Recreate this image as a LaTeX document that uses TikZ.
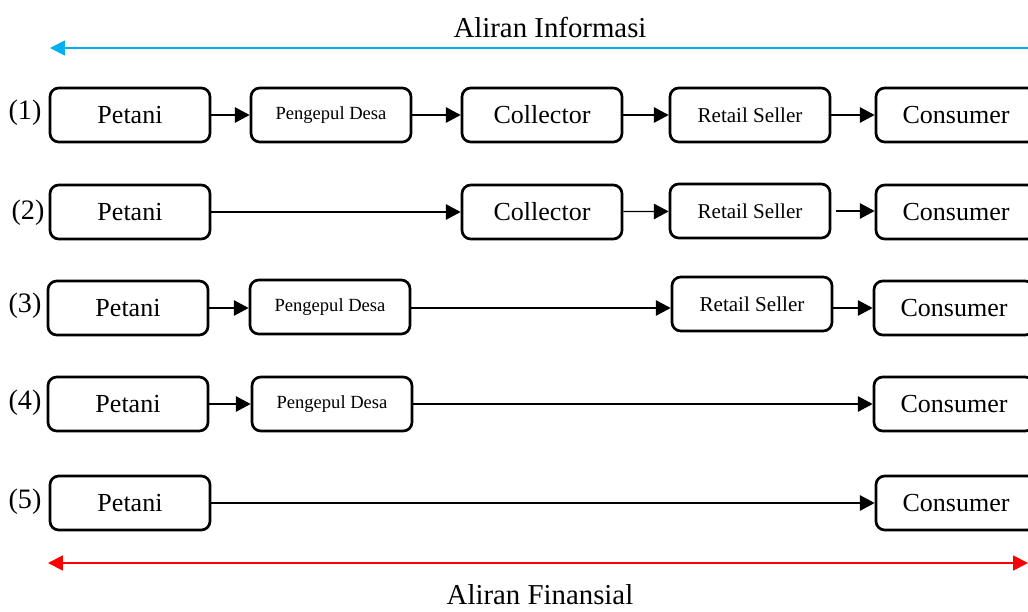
\documentclass[tikz,border=0pt]{standalone}
\usepackage{fontspec}
\setmainfont{Liberation Serif}
\usepackage{tikz}
\usetikzlibrary{arrows.meta, positioning, calc}
\definecolor{InfoBlue}{HTML}{00B0F0}
\definecolor{FinRed}{HTML}{FF0000}
\tikzset{
    % Box styles with rounded corners
    actor/.style={
        rectangle,
        rounded corners=0.22cm,
        draw=black,
        fill=white,
        line width=1.9pt,
        minimum width=4.0cm,
        minimum height=1.35cm,
        align=center,
        font=\fontsize{18.5}{20}\selectfont
    },
    actor retail/.style={
        actor,
        font=\fontsize{15}{17}\selectfont
    },
    actor pengepul/.style={
        actor,
        font=\fontsize{13.2}{15}\selectfont
    },
    row label/.style={
        font=\fontsize{20}{22}\selectfont
    },
    flow label/.style={
        font=\fontsize{20.5}{22}\selectfont
    },
    arrow style/.style={
        -{Triangle[length=10.5pt, width=11pt]},
        line width=0.9pt,
        black
    },
    info arrow/.style={
        -{Triangle[length=10.5pt, width=10.5pt]},
        line width=1.3pt,
        InfoBlue
    },
    fin arrow/.style={
        {Triangle[length=10.5pt, width=10.5pt]}-{Triangle[length=10.5pt, width=10.5pt]},
        line width=1.3pt,
        FinRed
    }
}
\begin{document}
\begin{tikzpicture}[x=0.025cm, y=-0.025cm]
        \useasboundingbox (0,0) rectangle (1028,612);

        % Aliran Informasi
        \node[flow label] (info) at (550, 27) {Aliran Informasi};
        \coordinate (info r) at (1045, 48);
        \coordinate (info l) at (50, 48);
        \draw[info arrow] (info r) -- (info l);

        % Row 1
        \node[row label] (n1) at (25, 113) {(1)};
        \node[actor] (petani1) at (130, 115) {Petani};
        \node[actor pengepul] (pengepul1) at (331, 115) {Pengepul Desa};
        \node[actor] (collector1) at (542, 115) {Collector};
        \node[actor retail] (retail1) at (750, 115) {Retail Seller};
        \node[actor] (consumer1) at (956, 115) {Consumer};
        \draw[arrow style] (petani1) -- (pengepul1);
        \draw[arrow style] (pengepul1) -- (collector1);
        \draw[arrow style] (collector1) -- (retail1);
        \draw[arrow style] (retail1) -- (consumer1);

        % Row 2
        \node[row label] (n2) at (28, 213) {(2)};
        \node[actor] (petani2) at (130, 212) {Petani};
        \node[actor] (collector2) at (542, 212) {Collector};
        \node[actor retail] (retail2) at (750, 211) {Retail Seller};
        \node[actor] (consumer2) at (956, 212) {Consumer};
        \draw[arrow style] (petani2.east) -- (petani2.east -| collector2.west);
        \draw[arrow style] (collector2) -- (retail2);
        \draw[arrow style] ([xshift=3]retail2.east) -- (retail2.east -| consumer2.west);

        % Row 3
        \node[row label] (n3) at (25, 306) {(3)};
        \node[actor] (petani3) at (128, 308) {Petani};
        \node[actor pengepul] (pengepul3) at (330, 307) {Pengepul Desa};
        \node[actor retail] (retail3) at (752, 304) {Retail Seller};
        \node[actor] (consumer3) at (954, 308) {Consumer};
        \draw[arrow style] (petani3.east) -- (petani3.east -| pengepul3.west);
        \draw[arrow style] (pengepul3.east |- petani3.east) -- (retail3.west |- petani3.east);
        \draw[arrow style] (retail3.east |- petani3.east) -- (consumer3.west |- petani3.east);

        % Row 4
        \node[row label] (n4) at (25, 403) {(4)};
        \node[actor] (petani4) at (128, 404) {Petani};
        \node[actor pengepul] (pengepul4) at (332, 404) {Pengepul Desa};
        \node[actor] (consumer4) at (954, 404) {Consumer};
        \draw[arrow style] (petani4) -- (pengepul4);
        \draw[arrow style] (pengepul4) -- (consumer4);

        % Row 5
        \node[row label] (n5) at (25, 502) {(5)};
        \node[actor] (petani5) at (130, 503) {Petani};
        \node[actor] (consumer5) at (956, 503) {Consumer};
        \draw[arrow style] (petani5) -- (consumer5);

        % Aliran Finansial
        \coordinate (fin l) at (48, 563);
        \coordinate (fin r) at (1028, 563);
        \draw[fin arrow] (fin l) -- (fin r);
        \node[flow label] (fin) at (540, 595) {Aliran Finansial};
    \end{tikzpicture}
\end{document}
